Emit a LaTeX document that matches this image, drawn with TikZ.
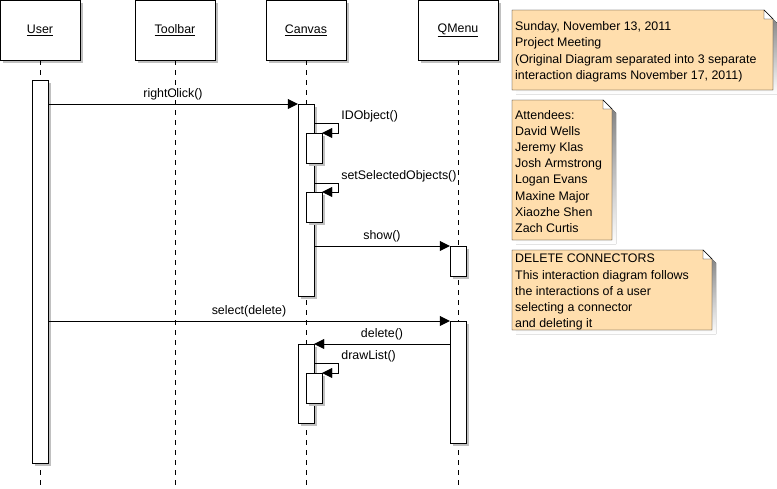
\documentclass[tikz,border=0pt]{standalone}
\usepackage{fontspec}
\setmainfont{Liberation Sans}
\usepackage{tikz}
\usetikzlibrary{positioning}
\usetikzlibrary{arrows.meta,shadows}

\definecolor{notefill}{RGB}{255,222,173}
\definecolor{shade}{RGB}{192,192,192}

\tikzset{
    head/.style={draw=black, fill=white, minimum width=80, minimum height=60,
        drop shadow={shadow xshift=3pt, shadow yshift=-3pt, fill=shade, opacity=1}},
    act/.style={draw=black, fill=white, minimum width=16, inner sep=0, anchor=north,
        drop shadow={shadow xshift=3pt, shadow yshift=-3pt, fill=shade, opacity=1}},
    life/.style={dash pattern=on 5pt off 5pt},
    msg/.style={-{Triangle[length=10pt, width=10pt]}},
    selflabel/.style={anchor=south west, inner xsep=3pt, inner ysep=1pt},
    notetext/.style={anchor=north west, inner sep=0, align=left}
}

\begin{document}
\begin{tikzpicture}[x=1pt, y=-1pt, font=\fontsize{12.4}{16.2}\selectfont]
        \useasboundingbox (0,0) rectangle (777,488);
        \coordinate (bottom) at (0,488);
        % objects
        \node(user) [head] at (40,30) {\underline{User}};
        \node(toolbar) [head] at (175,30) {\underline{Toolbar}};
        \node(canvas) [head] at (306,30) {\underline{Canvas}};
        \node(qmenu) [head] at (458,30) {\underline{QMenu}};
        \foreach \obj in {user, toolbar, canvas, qmenu}
            \draw[life] (\obj.south) -- (\obj.south |- bottom);
        % activations
        \node(userAct) [act, minimum height=383] at (40,80) {};
        \node(canvasAct) [act, minimum height=192] at (306,104) {};
        \node(idAct) [act, minimum height=30] at (314,133) {};
        \node(selAct) [act, minimum height=30] at (314,192) {};
        \node(showAct) [act, minimum height=30] at (458,246) {};
        \node(menuAct) [act, minimum height=122] at (458,321) {};
        \node(deleteAct) [act, minimum height=79] at (306,344) {};
        \node(listAct) [act, minimum height=30] at (314,373) {};
        % messages
        \draw[msg] (userAct.east |- canvasAct.north) -- (canvasAct.north west) node [midway, above] (rightClick) {rightClick()};
        \draw[msg] ([yshift=10pt]idAct.north -| canvasAct.east) -- ++(24,0) node [selflabel] (idObject) {IDObject()} |- (idAct.north east);
        \draw[msg] ([yshift=9pt]selAct.north -| canvasAct.east) -- ++(24,0) node [selflabel] (setSel) {setSelectedObjects()} |- (selAct.north east);
        \draw[msg] (canvasAct.east |- showAct.north) -- (showAct.north west) node [midway, above] (show) {show()};
        \draw[msg] (userAct.east |- menuAct.north) -- (menuAct.north west) node [midway, above] (select) {select(delete)};
        \draw[msg] (menuAct.west |- deleteAct.north) -- (deleteAct.north east) node [midway, above] (delete) {delete()};
        \draw[msg] ([yshift=10pt]listAct.north -| deleteAct.east) -- ++(24,0) node [selflabel] (drawList) {drawList()} |- (listAct.north east);
        % notes
        \foreach \l/\t/\r/\b in {512/10/773/90, 512/100/612/240, 512/250/712/330} {
            \fill[shade] (\l+4,\t+4) -- (\r-9+4,\t+4) -- (\r+4,\t+9+4) -- (\r+4,\b+4) -- (\l+4,\b+4) -- cycle;
            \draw[fill=notefill] (\l,\t) -- (\r-9,\t) -- (\r,\t+9) -- (\r,\b) -- (\l,\b) -- cycle;
            \draw[fill=white] (\r-9,\t) -- (\r-9,\t+9) -- (\r,\t+9) -- cycle;
        }
        \node(meeting) [notetext] at (515,21.5) {Sunday, November 13, 2011\\Project Meeting\\(Original Diagram separated into 3 separate\\interaction diagrams November 17, 2011)};
        \node(attendees) [notetext] at (515,110) {Attendees:\\David Wells\\Jeremy Klas\\Josh Armstrong\\Logan Evans\\Maxine Major\\Xiaozhe Shen\\Zach Curtis};
        \node(summary) [notetext] at (515,254) {DELETE CONNECTORS\\This interaction diagram follows\\the interactions of a user\\selecting a connector\\and deleting it};
    \end{tikzpicture}
\end{document}
